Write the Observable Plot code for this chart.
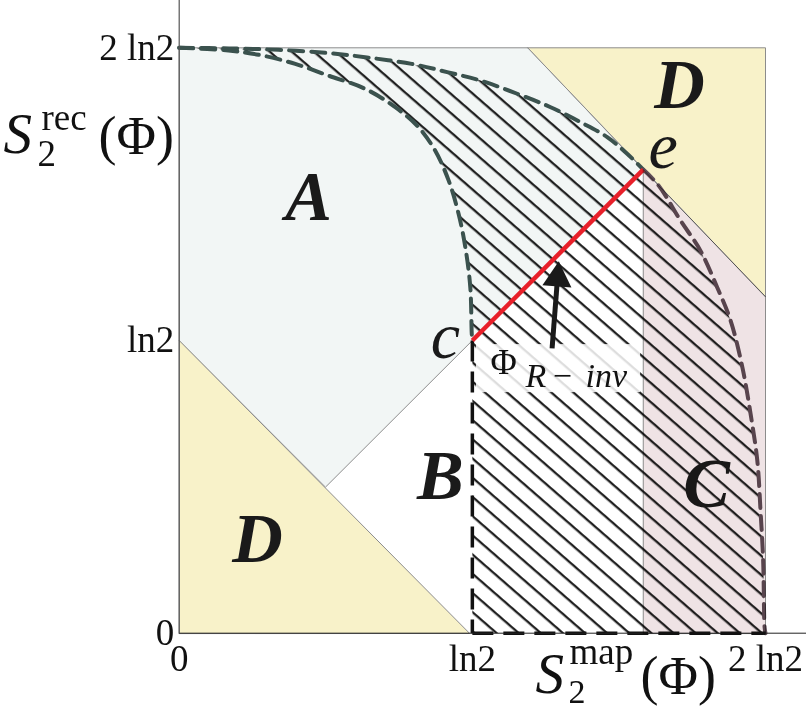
<!DOCTYPE html>
<html><head><meta charset="utf-8">
<script src="https://cdn.jsdelivr.net/npm/d3@7"></script>
<script src="https://cdn.jsdelivr.net/npm/@observablehq/plot@0.6"></script>
<style>body{margin:0;background:#fff;}</style>
</head><body><div id="chart"></div>
<script>
// All values in units of ln2
const xTicks = [0, 1, 2];
const xTickLabels = ["0", "ln2", "2 ln2"];
const yTicks = [0, 1, 2];
const yTickLabels = ["0", "ln2", "2 ln2"];

// outer dashed boundary (from (0,2ln2) to (2ln2,0))
const outerX = [0, 0.17, 0.339, 0.509, 0.634, 0.793, 0.914, 1.028, 1.153, 1.267, 1.369, 1.46, 1.528, 1.583, 1.635, 1.71, 1.778, 1.835, 1.881, 1.921, 1.949, 1.972, 1.983, 1.992, 1.997, 2];
const outerY = [2, 1.998, 1.993, 1.982, 1.968, 1.945, 1.917, 1.888, 1.843, 1.797, 1.746, 1.695, 1.638, 1.584, 1.53, 1.41, 1.307, 1.182, 1.068, 0.909, 0.75, 0.59, 0.419, 0.248, 0.02, 0];
// inner dashed boundary (from (0,2ln2) to c)
const innerX = [0, 0.168, 0.282, 0.396, 0.509, 0.634, 0.737, 0.816, 0.873, 0.919, 0.953, 0.976, 0.993, 0.998, 1];
const innerY = [2, 1.991, 1.974, 1.945, 1.905, 1.86, 1.797, 1.729, 1.649, 1.547, 1.433, 1.319, 1.182, 1.023, 1];

// regions
const regionAX = [0, 0, 1.19, 1.583, 1, 0.5];
const regionAY = [1, 2, 2, 1.584, 1, 0.5];
const regionD1X = [0, 0, 0.99];
const regionD1Y = [0, 1, 0];
const regionD2X = [1.19, 2, 2];
const regionD2Y = [2, 2, 1.15];
const regionCX = [1.583, 1.583, 2, 2];
const regionCY = [0, 1.584, 1.15, 0];

// special points
const pointC = [1, 1];
const pointE = [1.583, 1.584];
const cornerBottom = [1, 0];
const cornerRight = [2, 0];

// arrow Φ_R-inv
const arrowFrom = [1.272, 0.973];
const arrowHead = [1.2906, 1.2136];
const arrowAngle = 4.3;
const labelBoxX = [1.014, 1.574];
const labelBoxY = [0.822, 0.986];

// labels
const regionLabels = ["A", "B", "C", "D", "D"];
const regionLabelX = [0.441, 0.891, 1.799, 1.707, 0.267];
const regionLabelY = [1.41, 0.46, 0.432, 1.793, 0.242];
const labelCX = 0.958, labelCY = 0.939;
const labelEX = 1.601, labelEY = 1.588;

// ---------------------------------------------------------------
const W = 806, H = 710;
const ML = 178.7, MR = 41, MT = 47.3, MB = 77.3;
const SERIF = "'Liberation Serif', 'Times New Roman', serif";
const pts = (xs, ys) => xs.map((x, i) => ({x, y: ys[i]}));

const outer = pts(outerX, outerY);
const inner = pts(innerX, innerY);
const hatchPoly = [...outer, {x: cornerBottom[0], y: cornerBottom[1]}, ...inner.slice().reverse()];

const rl = regionLabels.map((t, i) => ({t, x: regionLabelX[i], y: regionLabelY[i]}));

function title(str, px, py, opts = {}) {
  return Plot.text([str], {frameAnchor: "top-left", dx: px - ML, dy: py - MT, textAnchor: "start", lineAnchor: "bottom", fill: "#111", fontFamily: SERIF, ...opts});
}
function note(str, x, y, opts = {}) {
  return Plot.text([{x, y}], {x: "x", y: "y", text: () => str, textAnchor: "start", lineAnchor: "bottom", fill: "#111", fontFamily: SERIF, ...opts});
}

const grey = "#8c8c8c";
const plot = Plot.plot({
  width: W, height: H,
  marginLeft: ML, marginRight: MR, marginTop: MT, marginBottom: MB,
  x: {domain: [0, 2]},
  y: {domain: [0, 2]},
  style: {fontFamily: SERIF, fontSize: "37px", background: "#fff", color: "#111", overflow: "visible"},
  marks: [
    Plot.line(pts(regionAX, regionAY), {x: "x", y: "y", curve: "linear-closed", fill: "#f2f6f5", stroke: grey, strokeWidth: 1}),
    Plot.line(pts(regionD1X, regionD1Y), {x: "x", y: "y", curve: "linear-closed", fill: "#f8f2c9", stroke: grey, strokeWidth: 1}),
    Plot.line(pts(regionD2X, regionD2Y), {x: "x", y: "y", curve: "linear-closed", fill: "#f8f2c9", stroke: grey, strokeWidth: 1}),
    // hatched region
    Plot.line(hatchPoly, {x: "x", y: "y", curve: "linear-closed", fill: "url(#hatch)", stroke: "none"}),
    // translucent label box
    Plot.rect([0], {x1: () => labelBoxX[0], x2: () => labelBoxX[1], y1: () => labelBoxY[0], y2: () => labelBoxY[1], fill: "#fff", fillOpacity: 0.85}),
    // dashed curves
    Plot.line(inner, {x: "x", y: "y", curve: "catmull-rom", stroke: "#3b524e", strokeWidth: 4, strokeDasharray: "14,8"}),
    Plot.line(outer, {filter: d => d.x <= pointE[0], x: "x", y: "y", curve: "catmull-rom", stroke: "#3b524e", strokeWidth: 4, strokeDasharray: "14,8"}),
    Plot.line(outer, {filter: d => d.x >= pointE[0], x: "x", y: "y", curve: "catmull-rom", stroke: "#5e4c56", strokeWidth: 4, strokeDasharray: "14,8"}),
    // black dashed segments
    Plot.link([0], {x1: () => pointC[0], y1: () => pointC[1], x2: () => cornerBottom[0], y2: () => cornerBottom[1], stroke: "#111", strokeWidth: 3.5, strokeDasharray: "21,10"}),
    Plot.link([0], {x1: () => cornerBottom[0], y1: () => cornerBottom[1], x2: () => cornerRight[0], y2: () => cornerRight[1], stroke: "#111", strokeWidth: 3.5, strokeDasharray: "21,10"}),
    // red line c -> e
    Plot.link([0], {x1: () => pointC[0], y1: () => pointC[1], x2: () => pointE[0], y2: () => pointE[1], stroke: "#e8202a", strokeWidth: 4.5}),
    // arrow
    Plot.link([0], {x1: () => arrowFrom[0], y1: () => arrowFrom[1], x2: () => arrowHead[0], y2: () => arrowHead[1], stroke: "#1a1a1a", strokeWidth: 5}),
    Plot.dot([0], {x: () => arrowHead[0], y: () => arrowHead[1], symbol: "triangle", r: 10.8, fill: "#1a1a1a", stroke: "none", rotate: arrowAngle}),
    // axis lines
    Plot.ruleX([0], {y1: 0, y2: 2.17, stroke: "#555", strokeWidth: 1.2}),
    Plot.ruleY([0], {x1: 0, x2: 2.14, stroke: "#222", strokeWidth: 1}),
    Plot.axisX({ticks: xTicks, tickFormat: d => xTickLabels[xTicks.indexOf(d)], tickSize: 0, tickPadding: 12, fontSize: 37, label: null}),
    Plot.axisY({ticks: yTicks, tickFormat: d => yTickLabels[yTicks.indexOf(d)], tickSize: 0, tickPadding: 5, fontSize: 37, label: null}),
    // region labels
    Plot.text(rl, {x: "x", y: "y", text: "t", fontSize: 70, fontWeight: "bold", fontStyle: "italic", textAnchor: "middle", lineAnchor: "bottom", fill: "#1a1a1a"}),
    note("c", labelCX, labelCY, {fontSize: 66, fontStyle: "italic", textAnchor: "end", fill: "#1a1a1a"}),
    note("e", labelEX, labelEY, {fontSize: 66, fontStyle: "italic", textAnchor: "start", fill: "#1a1a1a"}),
    // Φ_{R-inv}
    note("Φ", 1.062, 0.887, {fontSize: 36}),
    note("R", 1.181, 0.840, {fontSize: 34, fontStyle: "italic"}),
    note("−", 1.274, 0.840, {fontSize: 34}),
    note("inv", 1.386, 0.840, {fontSize: 34, fontStyle: "italic"}),
    // axis titles
    title("S", 3, 152, {fontSize: 57, fontStyle: "italic"}),
    title("rec", 41, 129, {fontSize: 37}),
    title("2", 37, 165, {fontSize: 37}),
    title("(Φ)", 98, 153, {fontSize: 54}),
    title("S", 535, 692, {fontSize: 57, fontStyle: "italic"}),
    title("map", 569, 663, {fontSize: 37}),
    title("2", 568, 702, {fontSize: 34}),
    title("(Φ)", 640, 693, {fontSize: 54}),
    // region C (tinted, multiplied over the hatching)
    Plot.line(pts(regionCX, regionCY), {x: "x", y: "y", curve: "linear-closed", fill: "#efe3e5", stroke: grey, strokeWidth: 1, mixBlendMode: "multiply"})
  ]
});

// hatch pattern
const ns = "http://www.w3.org/2000/svg";
const defs = document.createElementNS(ns, "defs");
const pat = document.createElementNS(ns, "pattern");
pat.setAttribute("id", "hatch");
pat.setAttribute("patternUnits", "userSpaceOnUse");
pat.setAttribute("width", "14.5");
pat.setAttribute("height", "14.5");
pat.setAttribute("patternTransform", "rotate(41)");
const ln = document.createElementNS(ns, "line");
ln.setAttribute("x1", "0"); ln.setAttribute("y1", "7");
ln.setAttribute("x2", "14.5"); ln.setAttribute("y2", "7");
ln.setAttribute("stroke", "#151515");
ln.setAttribute("stroke-width", "2.2");
pat.appendChild(ln);
defs.appendChild(pat);
plot.insertBefore(defs, plot.firstChild);

document.getElementById("chart").appendChild(plot);
</script>
</body></html>
